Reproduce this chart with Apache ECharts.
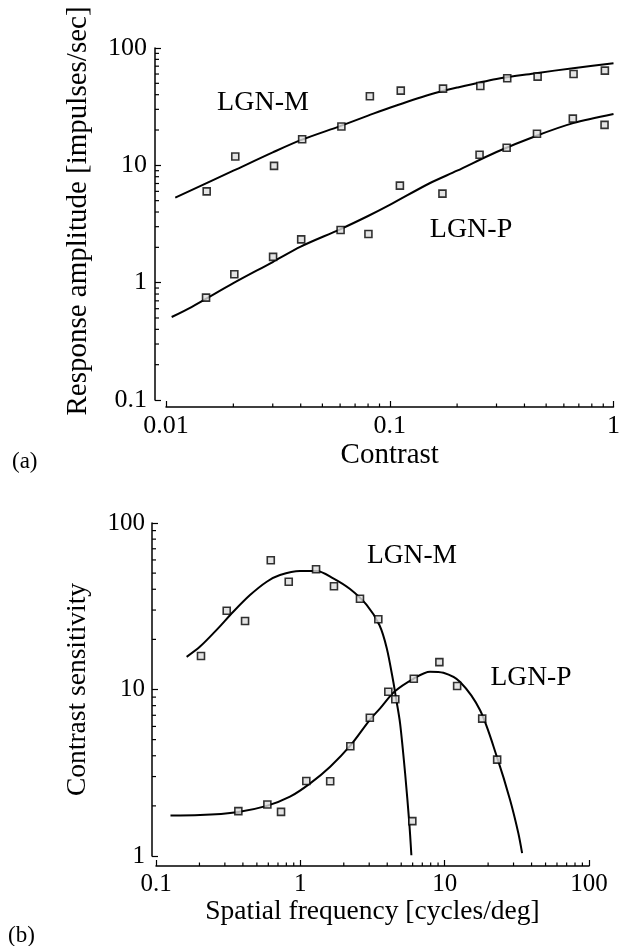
<!DOCTYPE html>
<html>
<head>
<meta charset="utf-8">
<script src="https://cdn.jsdelivr.net/npm/echarts@6/dist/echarts.min.js"></script>
<style>
  html, body { margin: 0; padding: 0; background: #fff; }
  #chart { width: 623px; height: 946px; }
</style>
</head>
<body>
<div id="chart"></div>
<script>
  // (a) response amplitude vs contrast
  var mPointsA = [[0.0152, 6.0], [0.0204, 11.9], [0.0304, 9.9], [0.0406, 16.7], [0.0608, 21.4],
    [0.0815, 38.8], [0.112, 43.3], [0.173, 45.1], [0.254, 47.5], [0.335, 55.3], [0.458, 57.0],
    [0.663, 60.1], [0.915, 64.2]]
  var mCurveA = [[0.011, 5.3], [0.02, 9.0], [0.03, 12.9], [0.04, 16.4], [0.06, 21.6], [0.08, 26.5],
    [0.1, 31], [0.15, 40], [0.2, 46], [0.3, 54.5], [0.45, 61], [0.66, 67.3], [1.0, 74]]
  var pPointsA = [[0.0151, 0.745], [0.0202, 1.18], [0.0301, 1.66], [0.0402, 2.34], [0.0603, 2.81],
    [0.0803, 2.60], [0.111, 6.71], [0.172, 5.74], [0.252, 12.3], [0.333, 14.1], [0.455, 18.6],
    [0.658, 25.0], [0.912, 22.1]]
  var pCurveA = [[0.0106, 0.51], [0.013, 0.62], [0.02, 0.99], [0.03, 1.5], [0.04, 2.03], [0.06, 2.85],
    [0.08, 3.7], [0.1, 4.6], [0.15, 7.0], [0.2, 9.0], [0.3, 13.0], [0.45, 17.8], [0.66, 22.9], [1.0, 27.4]]

  // (b) contrast sensitivity vs spatial frequency
  var mPointsB = [[0.205, 15.9], [0.309, 29.7], [0.414, 25.8], [0.624, 59.7], [0.831, 44.4],
    [1.285, 52.7], [1.71, 41.7], [2.59, 35.1], [3.47, 26.4], [4.55, 8.73], [5.97, 1.62]]
  var mCurveB = [[0.163, 15.7], [0.202, 18.1], [0.263, 22.8], [0.343, 29.3], [0.448, 36.9],
    [0.585, 44.4], [0.723, 48.7], [0.995, 51.5], [1.3, 51.5], [1.69, 46.5], [2.21, 40.1],
    [2.88, 32.2], [3.53, 24.4], [3.97, 17.7], [4.41, 11.1], [4.6, 8.9], [4.91, 6.27],
    [5.32, 3.14], [5.69, 1.57], [5.88, 1.01]]
  var pPointsB = [[0.372, 1.86], [0.591, 2.04], [0.735, 1.84], [1.10, 2.82], [1.61, 2.81],
    [2.22, 4.56], [3.03, 6.77], [4.07, 9.7], [6.11, 11.6], [9.19, 14.6], [12.2, 10.5],
    [18.2, 6.68], [23.1, 3.79]]
  var pCurveB = [[0.126, 1.75], [0.202, 1.76], [0.372, 1.84], [0.585, 2.0], [0.848, 2.27],
    [1.17, 2.73], [1.61, 3.44], [2.21, 4.58], [3.04, 6.6], [3.57, 7.71], [4.48, 9.7],
    [6.07, 11.6], [7.92, 12.8], [9.8, 12.6], [12.8, 11.1], [17.6, 7.5], [23.1, 3.9],
    [28.4, 2.17], [32.4, 1.37], [34.4, 1.04]]

  var serif = 'Liberation Serif'

  // minor ticks 2..9 of every decade between lo and hi
  function minorTicks(lo, hi) {
    var out = []
    for (var d = lo; d < hi * 0.999; d *= 10) {
      for (var k = 2; k <= 9; k++) out.push(+(d * k).toPrecision(3))
    }
    return out
  }

  function xTicks(idx, ticks, yMin, offset, len) {
    return {
      type: 'custom', xAxisIndex: idx, yAxisIndex: idx, silent: true,
      data: ticks.map(function (t) { return [t, yMin] }),
      renderItem: function (params, api) {
        var p = api.coord([api.value(0), api.value(1)])
        return { type: 'line', shape: { x1: p[0], y1: p[1] + offset, x2: p[0], y2: p[1] + offset - len },
          style: { stroke: '#000', lineWidth: 1.2 } }
      }
    }
  }
  function yTicks(idx, ticks, xMin, offset, len) {
    return {
      type: 'custom', xAxisIndex: idx, yAxisIndex: idx, silent: true,
      data: ticks.map(function (t) { return [xMin, t] }),
      renderItem: function (params, api) {
        var p = api.coord([api.value(0), api.value(1)])
        return { type: 'line', shape: { x1: p[0] - offset, y1: p[1], x2: p[0] - offset + len, y2: p[1] },
          style: { stroke: '#000', lineWidth: 1.2 } }
      }
    }
  }

  function curve(idx, data) {
    return { type: 'line', xAxisIndex: idx, yAxisIndex: idx, data: data, smooth: 0.3, showSymbol: false,
      lineStyle: { color: '#000', width: 2 }, silent: true }
  }
  function points(idx, data) {
    return { type: 'scatter', xAxisIndex: idx, yAxisIndex: idx, data: data, symbol: 'rect', symbolSize: 7,
      itemStyle: { color: '#ddd', borderColor: '#000', borderWidth: 1.6 }, silent: true, z: 4 }
  }

  function axis(gi, min, max, offset, fs, name, nameFs, gap, labelMargin) {
    return {
      type: 'log', logBase: 10, gridIndex: gi, min: min, max: max, offset: offset,
      axisLine: { onZero: false, lineStyle: { color: '#000', width: 1.5 } },
      axisTick: { inside: true, length: 6, lineStyle: { color: '#000', width: 1.2 } },
      splitLine: { show: false },
      axisLabel: { color: '#000', fontFamily: serif, fontSize: fs, margin: labelMargin },
      name: name, nameLocation: 'middle', nameGap: gap,
      nameTextStyle: { color: '#000', fontFamily: serif, fontSize: nameFs }
    }
  }

  var chart = echarts.init(document.getElementById('chart'))

  var yA = axis(0, 0.1, 100, 11, 26, 'Response amplitude [impulses/sec]', 29, 62, 8)
  yA.nameTextStyle.padding = [0, 0, 0, 26]
  var yB = axis(1, 1, 100, 4, 25, 'Contrast sensitivity', 27.5, 60, 7)

  chart.setOption({
    animation: false,
    backgroundColor: '#fff',
    grid: [
      { left: 166, top: 48, width: 448, height: 352 },
      { left: 156, top: 523, width: 433, height: 333 }
    ],
    xAxis: [
      axis(0, 0.01, 1, 7, 26, 'Contrast', 29, 34, 6),
      axis(1, 0.1, 100, 10, 25, 'Spatial frequency [cycles/deg]', 27.5, 27, 6)
    ],
    yAxis: [yA, yB],
    graphic: [
      { type: 'text', left: 12, top: 450, style: { text: '(a)', fontFamily: serif, fontSize: 23, fill: '#000' } },
      { type: 'text', left: 8, top: 924, style: { text: '(b)', fontFamily: serif, fontSize: 23, fill: '#000' } },
      { type: 'text', x: 263, y: 103, style: { text: 'LGN-M', fontFamily: serif, fontSize: 28, fill: '#000', align: 'center', verticalAlign: 'middle' } },
      { type: 'text', x: 471, y: 230, style: { text: 'LGN-P', fontFamily: serif, fontSize: 28, fill: '#000', align: 'center', verticalAlign: 'middle' } },
      { type: 'text', x: 412, y: 556, style: { text: 'LGN-M', fontFamily: serif, fontSize: 27.5, fill: '#000', align: 'center', verticalAlign: 'middle' } },
      { type: 'text', x: 531, y: 678, style: { text: 'LGN-P', fontFamily: serif, fontSize: 27.5, fill: '#000', align: 'center', verticalAlign: 'middle' } }
    ],
    series: [
      curve(0, mCurveA), curve(0, pCurveA), points(0, mPointsA), points(0, pPointsA),
      curve(1, mCurveB), curve(1, pCurveB), points(1, mPointsB), points(1, pPointsB),
      xTicks(0, minorTicks(0.01, 1), 0.1, 7, 3.5),
      yTicks(0, minorTicks(0.1, 100), 0.01, 11, 4),
      xTicks(1, minorTicks(0.1, 100), 1, 10, 3.5),
      yTicks(1, minorTicks(1, 100), 0.1, 4, 4)
    ]
  })
</script>
</body>
</html>
